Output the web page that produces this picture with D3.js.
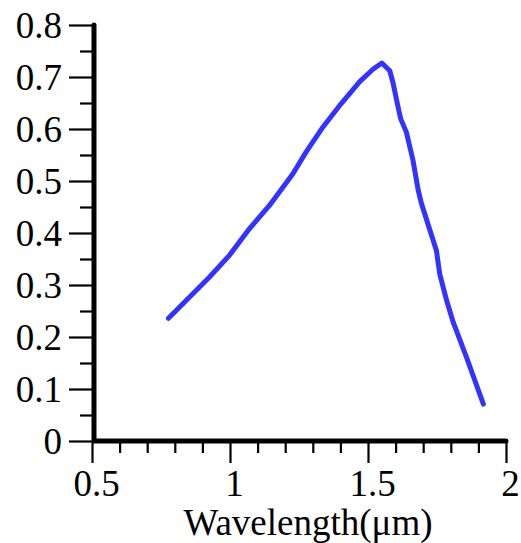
<!DOCTYPE html>
<html>
<head>
<meta charset="utf-8">
<script src="https://cdn.jsdelivr.net/npm/d3@7"></script>
<style>
  html, body { margin: 0; padding: 0; background: #fff; }
  svg { display: block; }
  text { font-family: "Liberation Serif", "DejaVu Serif", serif; fill: #000; }
</style>
</head>
<body>
<svg id="chart" width="521" height="543"></svg>
<script>
// Spectral response curve: wavelength (µm) vs. response
const wavelength = [0.777, 0.925, 0.998, 1.070, 1.143, 1.228, 1.276, 1.337, 1.403, 1.470,
                    1.518, 1.550, 1.579, 1.591, 1.604, 1.613, 1.619, 1.639, 1.663, 1.682,
                    1.694, 1.736, 1.748, 1.760, 1.785, 1.809, 1.857, 1.918];
const response   = [0.236, 0.315, 0.357, 0.408, 0.453, 0.514, 0.556, 0.604, 0.649, 0.691,
                    0.715, 0.727, 0.712, 0.688, 0.655, 0.632, 0.619, 0.594, 0.540, 0.482,
                    0.456, 0.386, 0.366, 0.321, 0.270, 0.228, 0.161, 0.071];

const xMajorTicks = [0.5, 1, 1.5, 2];
const xMinorTicks = [0.6, 0.7, 0.8, 0.9, 1.1, 1.2, 1.3, 1.4, 1.6, 1.7, 1.8, 1.9];
const yMajorTicks = [0, 0.1, 0.2, 0.3, 0.4, 0.5, 0.6, 0.7, 0.8];
const yMinorTicks = [0.05, 0.15, 0.25, 0.35, 0.45, 0.55, 0.65, 0.75];
const xTitle = "Wavelength(μm)";

const svg = d3.select("#chart");
const x = d3.scaleLinear().domain([0.5, 2]).range([92, 506]);
const y = d3.scaleLinear().domain([0, 0.8]).range([441, 25]);
const axisX = 94;   // position of the vertical axis line
const axisY = 441;  // position of the horizontal axis line
const fontSize = 37;

// X axis: major ticks with labels, minor ticks without
const gx = svg.append("g").attr("transform", `translate(0,${axisY})`);
gx.append("g")
  .call(d3.axisBottom(x).tickValues(xMajorTicks).tickSize(22).tickSizeOuter(0)
        .tickFormat(d3.format("")).tickPadding(7))
  .call(g => g.select(".domain").remove())
  .call(g => g.selectAll(".tick line").attr("stroke", "#000").attr("stroke-width", 2.2))
  .call(g => g.selectAll(".tick text")
        .attr("font-size", fontSize).attr("font-family", "Liberation Serif")
        .attr("dx", 4).attr("dy", "0.7em").attr("fill", "#000"));
gx.append("g")
  .call(d3.axisBottom(x).tickValues(xMinorTicks).tickSize(12).tickFormat(""))
  .call(g => g.select(".domain").remove())
  .call(g => g.selectAll(".tick line").attr("stroke", "#000").attr("stroke-width", 2.2));

// Y axis: major ticks with labels, minor ticks without
const gy = svg.append("g").attr("transform", `translate(${axisX},0)`);
gy.append("g")
  .call(d3.axisLeft(y).tickValues(yMajorTicks).tickSize(25).tickSizeOuter(0)
        .tickFormat(d => d === 0 ? "0" : d3.format(".1f")(d)).tickPadding(7))
  .call(g => g.select(".domain").remove())
  .call(g => g.selectAll(".tick line").attr("stroke", "#000").attr("stroke-width", 2.2))
  .call(g => g.selectAll(".tick text")
        .attr("font-size", fontSize).attr("font-family", "Liberation Serif")
        .attr("dy", "0.34em").attr("fill", "#000"));
gy.append("g")
  .call(d3.axisLeft(y).tickValues(yMinorTicks).tickSize(14).tickFormat(""))
  .call(g => g.select(".domain").remove())
  .call(g => g.selectAll(".tick line").attr("stroke", "#000").attr("stroke-width", 2.2));

// Heavy axis lines joined at the origin
svg.append("path")
  .attr("d", `M${x(2)},${axisY} L${axisX},${axisY} L${axisX},${y(0.8)}`)
  .attr("fill", "none").attr("stroke", "#000").attr("stroke-width", 5)
  .attr("stroke-linecap", "round").attr("stroke-linejoin", "round");

// Axis title
svg.append("text")
  .attr("x", 308).attr("y", 535)
  .attr("text-anchor", "middle")
  .attr("font-size", fontSize)
  .text(xTitle);

// Response curve
const line = d3.line().x((d, i) => x(wavelength[i])).y(d => y(d));
svg.append("path")
  .datum(response)
  .attr("d", line)
  .attr("fill", "none")
  .attr("stroke", "#3333ff")
  .attr("stroke-width", 5)
  .attr("stroke-linecap", "round")
  .attr("stroke-linejoin", "round");
</script>
</body>
</html>
